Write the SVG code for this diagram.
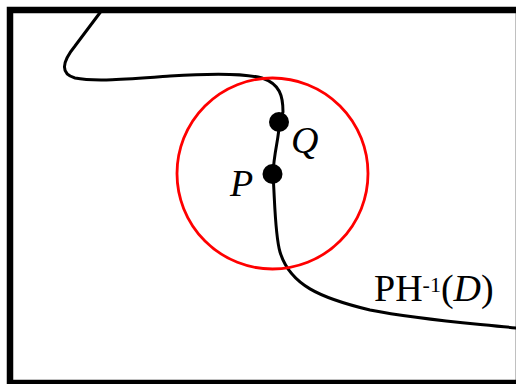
<svg xmlns="http://www.w3.org/2000/svg" width="516" height="384" viewBox="0 0 516 384">
<style>
.lbl{font-family:"Liberation Serif","Times New Roman",serif;font-size:38px;fill:#000}
.it{font-style:italic}
.curve{fill:none;stroke:#000;stroke-width:3;stroke-linecap:round}
.dot{fill:#000}
</style>
<rect width="516" height="384" fill="#fff"/>
<g id="connectors">
<path class="curve" d="M 102,10 L 75,46 C 62,62 60,74 75,78 C 95,82 130,79 170,76 C 200,74 240,72 262,78 C 280,84 283,96 283,112 L 279,122 C 280,135 274,150 273,174 C 275,205 275,235 280,252 C 290,285 320,298 370,310 C 420,320 470,323 516,328"/>
</g>
<g id="frame">
<rect x="10" y="10" width="509" height="373" fill="none" stroke="#000" stroke-width="6.5"/>
</g>
<g id="circle">
<circle cx="272.5" cy="173.5" r="95.5" fill="none" stroke="#f00" stroke-width="2.8"/>
</g>
<g id="Q">
<circle class="dot" cx="279" cy="122" r="10"/>
<text class="lbl it" x="291" y="153">Q</text>
</g>
<g id="P">
<circle class="dot" cx="272.5" cy="174" r="10"/>
<text class="lbl it" x="230" y="196">P</text>
</g>
<g id="label">
<text class="lbl" x="374" y="301">PH<tspan dy="-9" font-size="22">-1</tspan><tspan dy="9">(</tspan><tspan class="it">D</tspan>)</text>
</g>
</svg>
